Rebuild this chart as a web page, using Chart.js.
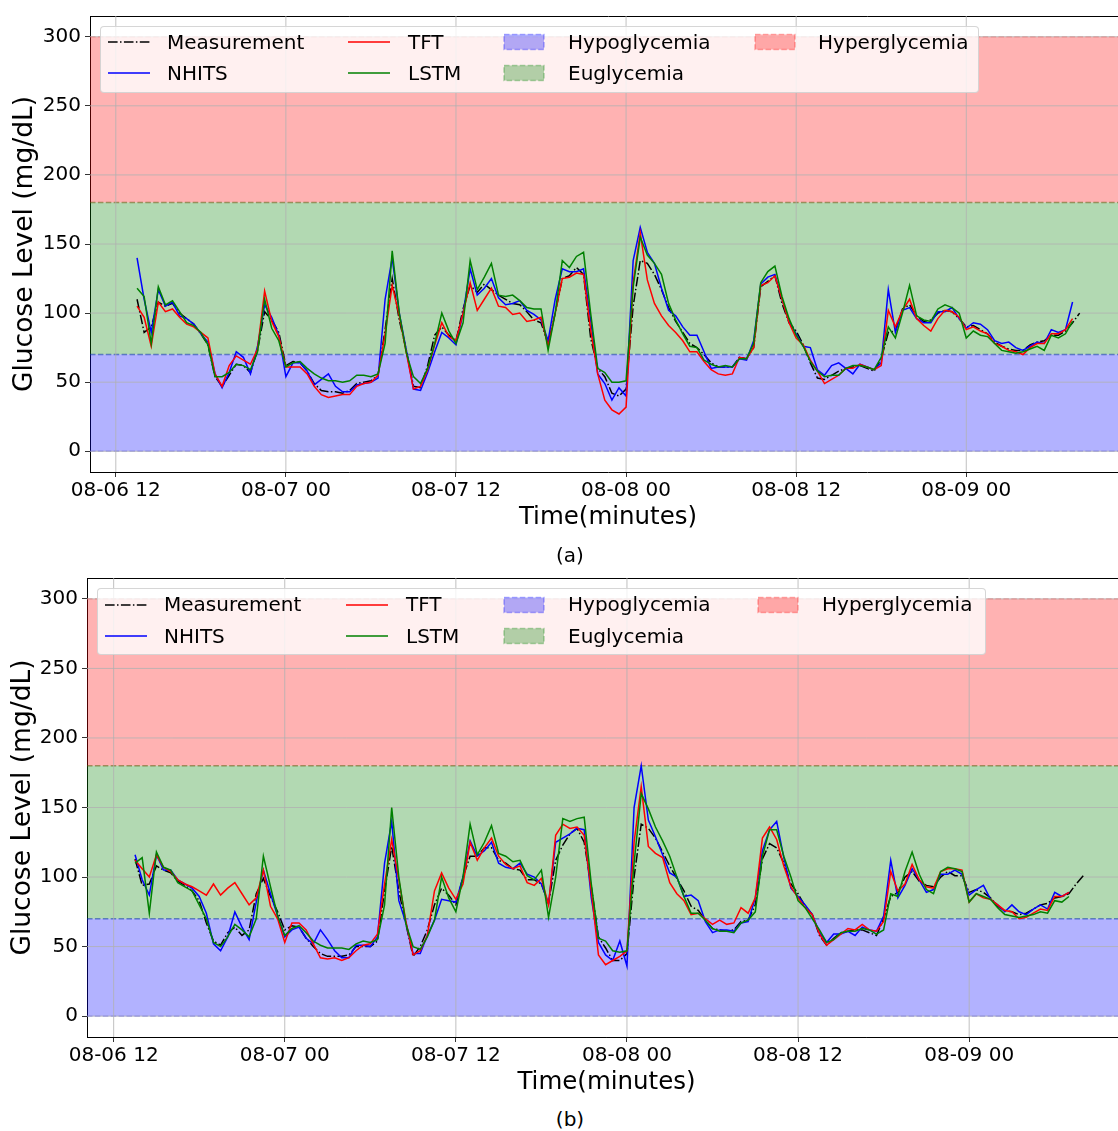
<!DOCTYPE html>
<html>
<head>
<meta charset="utf-8">
<script src="https://cdn.jsdelivr.net/npm/chart.js@4.4.1/dist/chart.umd.min.js"></script>
<style>
html,body{margin:0;padding:0;background:#fff;overflow:hidden;}
#wrap{position:relative;width:1118px;height:1131px;overflow:hidden;font-family:"DejaVu Sans",sans-serif;background:#fff;}
canvas{position:absolute;left:0;}
.legend{position:absolute;background:rgba(255,255,255,0.8);border:1px solid rgba(204,204,204,0.8);border-radius:4px;box-sizing:border-box;}
.ltext{position:absolute;font-size:20px;line-height:24px;color:#000;white-space:nowrap;}
.lh{position:absolute;}
.cap{position:absolute;font-size:20px;line-height:24px;color:#000;transform:translate(-50%,-50%);white-space:nowrap;}
</style>
</head>
<body>
<div id="wrap">
  <canvas id="chartA" width="1126" height="534" style="top:0px"></canvas>
  <canvas id="chartB" width="1126" height="537" style="top:562px"></canvas>
  <div class="cap" style="left:570px;top:555px;">(a)</div>
  <div class="cap" style="left:570px;top:1119px;">(b)</div>
</div>
<script>
// ---------------- DATA ----------------
// hours since 08-06 00:00
const hours = [13.5,14,14.5,15,15.5,16,16.5,17,17.5,18,18.5,19,19.5,20,20.5,21,21.5,22,22.5,23,23.5,24,24.5,25,25.5,26,26.5,27,27.5,28,
28.5,29,29.5,30,30.5,31,31.5,32,32.5,33,33.5,34,34.5,35,35.5,36,36.5,37,37.5,38,38.5,39,39.5,40,40.5,41,41.5,42,42.5,43,43.5,44,44.5,45,45.5,46,
46.5,47,47.5,48,48.5,49,49.5,50,50.5,51,51.5,52,52.5,53,53.5,54,54.5,55,55.5,56,56.5,57,57.5,58,58.5,59,59.5,60,60.5,61,61.5,62,62.5,63,63.5,
64,64.5,65,65.5,66,66.5,67,67.5,68,68.5,69,69.5,70,70.5,71,71.5,72,72.5,73,73.5,74,74.5,75,75.5,76,76.5,77,77.5,78,78.5,79,79.5,80];

const seriesNames = ['Measurement','NHITS','TFT','LSTM'];

// Panel (a)
const measurementA = [110,86,90,108,105,107,100,96,92,85,77,54,47,55,63,62,57,73,101,95,86,62,65,64,58,49,44,43,43,42,
44,49,50,51,55,88,125,95,73,47,46,62,84,90,84,80,103,120,115,121,117,113,110,107,106,101,95,93,78,100,125,127,133,128,82,60,
54,42,40,45,105,138,136,128,117,104,94,86,78,75,70,64,61,61,61,68,67,75,119,123,127,107,93,87,77,64,53,52,55,58,60,
61,62,60,58,67,86,87,103,106,98,94,95,100,102,101,96,90,91,88,85,79,76,74,73,73,77,79,80,84,84,87,93,100];
const nhitsA = [140,110,86,117,105,108,98,96,92,85,79,56,46,57,72,68,56,76,106,97,84,54,64,64,58,48,52,56,47,43,
43,48,49,50,53,110,140,100,73,45,44,57,72,86,82,77,100,132,113,118,125,111,106,107,109,102,99,95,80,110,132,130,130,132,95,56,
49,37,46,40,138,162,144,136,118,102,98,90,84,84,72,60,61,61,61,67,66,80,121,126,128,110,94,85,76,75,59,55,62,64,60,
56,63,61,59,64,117,86,102,104,96,93,93,101,101,104,96,89,93,92,88,80,78,79,75,73,76,79,78,88,86,88,108,null];
const tftA = [105,97,76,108,101,103,97,92,90,86,82,56,47,62,69,66,63,74,116,94,83,61,61,61,56,47,41,39,40,41,
41,47,49,50,55,85,120,98,71,45,47,59,77,93,83,80,100,122,102,110,118,105,104,99,100,94,95,97,76,100,125,126,129,128,88,56,
37,30,27,32,122,158,124,107,98,91,86,80,72,72,65,59,56,55,56,68,67,75,120,122,127,110,93,82,77,66,58,49,52,55,60,
60,63,61,59,62,102,90,102,110,96,91,87,96,102,101,97,88,90,87,85,78,76,73,72,70,75,78,78,85,85,88,96,null];
const lstmA = [118,112,78,119,106,109,101,93,91,86,77,54,54,57,63,62,59,72,110,89,80,61,64,65,60,56,53,51,51,50,
51,55,55,54,56,78,145,100,71,54,49,60,78,100,87,78,93,138,117,126,136,113,112,113,109,104,103,103,73,100,138,133,141,144,100,60,
57,50,50,51,119,155,142,136,128,107,95,85,76,75,66,63,61,62,61,67,67,78,122,130,134,112,96,84,76,65,58,54,55,55,60,
62,62,61,59,68,90,82,100,120,98,95,94,103,106,104,100,82,87,84,83,78,73,72,71,72,74,76,73,84,82,85,94,null];

// Panel (b)
const measurementB = [113,94,95,108,105,103,97,94,90,83,67,54,51,60,64,58,62,88,99,86,75,62,65,64,56,50,45,43,43,43,
44,50,50,50,54,90,122,90,66,43,50,62,80,92,87,80,100,115,115,121,121,112,110,106,105,98,98,95,81,112,123,131,135,125,93,57,
49,40,40,45,100,138,135,128,118,108,99,90,79,76,69,63,62,61,62,68,69,80,113,124,121,110,95,88,79,73,58,51,56,60,61,
62,62,60,58,70,86,89,100,104,97,94,93,100,104,101,101,89,91,89,85,79,76,75,73,74,77,80,81,85,86,88,95,101];
const nhitsB = [116,98,87,116,105,105,98,95,92,86,74,52,47,57,75,64,55,82,105,88,72,57,62,64,56,52,62,55,47,42,
42,51,51,50,57,110,140,83,67,45,45,58,69,84,83,82,100,126,115,119,125,110,107,106,110,102,100,95,81,125,128,131,135,134,85,53,
44,40,54,36,150,180,141,129,116,103,100,86,87,83,68,60,62,62,61,67,68,85,119,134,140,114,92,86,80,73,60,53,59,59,61,
58,64,62,61,72,112,85,94,106,98,89,91,102,102,105,102,87,91,94,84,80,75,80,75,73,77,80,77,89,86,89,null,null];
const tftB = [112,106,100,116,107,104,98,95,93,90,87,95,87,92,96,88,80,85,105,79,70,53,67,67,62,52,42,41,42,40,
42,47,51,52,59,95,127,98,68,44,47,58,90,103,92,84,95,125,112,121,128,115,109,106,108,96,94,99,80,130,138,135,136,130,90,44,
37,40,43,47,125,165,122,117,114,96,88,83,73,74,70,66,69,66,67,78,74,85,128,136,127,108,93,85,78,73,59,51,55,59,63,
62,66,62,61,68,104,90,95,109,98,93,92,104,106,106,105,82,88,85,84,80,76,75,70,71,74,77,76,86,86,89,null,null];
const lstmB = [110,114,74,118,107,105,96,93,90,80,70,53,50,57,66,62,57,70,115,93,72,58,63,65,60,54,51,49,49,49,
48,52,54,53,55,80,150,100,66,50,48,57,69,100,85,75,100,138,116,125,137,117,115,111,112,101,98,105,71,100,142,140,142,143,95,56,
54,47,46,47,110,160,149,136,126,115,100,86,74,74,69,63,61,61,60,67,69,75,115,134,134,115,100,83,78,70,62,53,55,60,61,
61,63,62,59,62,88,86,104,118,102,91,88,104,107,106,104,82,88,86,84,78,73,72,71,72,73,75,74,83,82,86,null,null];

// axes ticks
const tickHours = [12,24,36,48,60,72];
const tickLabels = ['08-06 12','08-07 00','08-07 12','08-08 00','08-08 12','08-09 00'];
const yTicks = [0,50,100,150,200,250,300];

// glycemic ranges
const bandNames = ['Hypoglycemia','Euglycemia','Hyperglycemia'];
const bandLow = [0,70,180];
const bandHigh = [70,180,300];

// ---------------- STYLE ----------------
Chart.defaults.font.family = "'DejaVu Sans', sans-serif";
Chart.defaults.color = '#000';
const seriesColors = ['#000000','#0000ff','#ff0000','#008000'];
const seriesDash = [[9.6,2.4,1.5,2.4],[],[],[]];
const bandRGB = ['0,0,255','0,128,0','255,0,0'];

// grid drawn above the range bands but below the model lines (matplotlib zorder)
const gridOverBands = {
  id: 'gridOverBands',
  beforeDatasetDraw(chart, args) {
    if (chart.data.datasets[args.index].label !== seriesNames[0]) return;
    const {ctx, chartArea: a} = chart;
    const x = chart.scales.x, y = chart.scales.y;
    ctx.save();
    ctx.beginPath();
    ctx.rect(a.left, a.top, a.right - a.left, a.bottom - a.top);
    ctx.clip();
    ctx.strokeStyle = '#b0b0b0';
    ctx.lineWidth = 0.8;
    ctx.beginPath();
    x.ticks.forEach(t => { const px = x.getPixelForValue(t.value); ctx.moveTo(px, a.top); ctx.lineTo(px, a.bottom); });
    y.ticks.forEach(t => { const py = y.getPixelForValue(t.value); ctx.moveTo(a.left, py); ctx.lineTo(a.right, py); });
    ctx.stroke();
    ctx.restore();
  }
};

function makePanel(canvasId, values, xLim, yAxisWidth, yTitlePad) {
  const datasets = [];
  for (let b = 0; b < bandNames.length; b++) {
    const c = 'rgba(' + bandRGB[b] + ',0.3)';
    datasets.push({label: bandNames[b], data: [{x: xLim[0], y: bandHigh[b]}, {x: xLim[1], y: bandHigh[b]}],
      fill: {value: bandLow[b]}, backgroundColor: c, borderColor: c, borderWidth: 1.5, borderDash: [5.5, 2.4],
      pointRadius: 0, order: 10});
    datasets.push({label: bandNames[b] + ' low', data: [{x: xLim[0], y: bandLow[b]}, {x: xLim[1], y: bandLow[b]}],
      fill: false, borderColor: c, borderWidth: 1.5, borderDash: [5.5, 2.4], pointRadius: 0, order: 10});
  }
  values.forEach((arr, i) => {
    datasets.push({label: seriesNames[i], data: hours.map((h, k) => ({x: h, y: arr[k]})),
      borderColor: seriesColors[i], borderWidth: 1.5, borderDash: seriesDash[i], pointRadius: 0,
      fill: false, tension: 0, spanGaps: false, order: 4 - i});
  });
  return new Chart(document.getElementById(canvasId), {
    type: 'line',
    data: {datasets},
    plugins: [gridOverBands],
    options: {
      responsive: false, animation: false, devicePixelRatio: 1, events: [],
      layout: {padding: {top: 15, left: 0, right: 0, bottom: 0}},
      plugins: {legend: {display: false}, tooltip: {enabled: false}},
      scales: {
        x: {
          type: 'linear', min: xLim[0], max: xLim[1],
          afterBuildTicks: s => { s.ticks = tickHours.map(v => ({value: v})); },
          ticks: {autoSkip: false, maxRotation: 0, padding: 2, font: {size: 20},
                  callback: v => tickLabels[tickHours.indexOf(v)]},
          grid: {color: 'rgba(0,0,0,0)', lineWidth: 0.8, tickLength: 5, tickColor: '#000'},
          border: {color: '#000', width: 1},
          title: {display: true, text: 'Time(minutes)', font: {size: 24.5}, padding: {top: 0, bottom: 2}},
          afterFit: s => { s.height = 62; }
        },
        x2: {
          type: 'linear', position: 'top', min: xLim[0], max: xLim[1],
          ticks: {display: false}, grid: {display: false, drawTicks: false},
          border: {display: true, color: '#000', width: 1},
          afterFit: s => { s.height = 0; }
        },
        y: {
          min: -15, max: 315,
          afterBuildTicks: s => { s.ticks = yTicks.map(v => ({value: v})); },
          ticks: {padding: 4, font: {size: 20}},
          grid: {color: 'rgba(0,0,0,0)', lineWidth: 0.8, tickLength: 5, tickColor: '#000'},
          border: {color: '#000', width: 1},
          title: {display: true, text: 'Glucose Level (mg/dL)', font: {size: 26.5}, padding: {top: yTitlePad, bottom: 0}},
          afterFit: s => { s.width = yAxisWidth; }
        }
      }
    }
  });
}

makePanel('chartA', [measurementA, nhitsA, tftA, lstmA], [10.18, 83.27], 90, 9);
makePanel('chartB', [measurementB, nhitsB, tftB, lstmB], [10.13, 83.0], 87, 7);

// ---------------- LEGENDS (HTML overlay) ----------------
function handleSVG(kind, idx) {
  if (kind === 'line') {
    const dash = seriesDash[idx].length ? 'stroke-dasharray="' + seriesDash[idx].join(',') + '"' : '';
    return '<svg width="42" height="20"><line x1="0" y1="10" x2="42" y2="10" stroke="' + seriesColors[idx] +
           '" stroke-width="1.5" ' + dash + '/></svg>';
  }
  const c = 'rgba(' + bandRGB[idx] + ',0.3)';
  return '<svg width="42" height="20"><rect x="1" y="2.5" width="40" height="15" fill="' + c +
         '" stroke="' + c + '" stroke-width="1.5" stroke-dasharray="5.5,2.4"/></svg>';
}
function makeLegend(box, rows, cols) {
  const wrap = document.getElementById('wrap');
  const lg = document.createElement('div');
  lg.className = 'legend';
  lg.style.left = box[0] + 'px'; lg.style.top = box[1] + 'px';
  lg.style.width = (box[2] - box[0]) + 'px'; lg.style.height = (box[3] - box[1]) + 'px';
  wrap.appendChild(lg);
  const items = [
    {kind: 'line', idx: 0, label: seriesNames[0], col: 0, row: 0},
    {kind: 'line', idx: 1, label: seriesNames[1], col: 0, row: 1},
    {kind: 'line', idx: 2, label: seriesNames[2], col: 1, row: 0},
    {kind: 'line', idx: 3, label: seriesNames[3], col: 1, row: 1},
    {kind: 'patch', idx: 0, label: bandNames[0], col: 2, row: 0},
    {kind: 'patch', idx: 1, label: bandNames[1], col: 2, row: 1},
    {kind: 'patch', idx: 2, label: bandNames[2], col: 3, row: 0}
  ];
  items.forEach(it => {
    const cy = rows[it.row];
    const h = document.createElement('div');
    h.className = 'lh';
    h.style.left = cols[it.col][0] + 'px'; h.style.top = (cy - 10) + 'px';
    h.innerHTML = handleSVG(it.kind, it.idx);
    wrap.appendChild(h);
    const t = document.createElement('div');
    t.className = 'ltext';
    t.style.left = cols[it.col][1] + 'px'; t.style.top = (cy - 12.5) + 'px';
    t.textContent = it.label;
    wrap.appendChild(t);
  });
}
makeLegend([100, 25.5, 979, 92.5], [42.3, 73.3], [[108, 167], [348, 408], [503, 568], [754, 818]]);
makeLegend([97, 588, 986, 655], [604.5, 636], [[105, 164], [346, 406], [503, 568], [757, 822]]);
</script>
</body>
</html>
